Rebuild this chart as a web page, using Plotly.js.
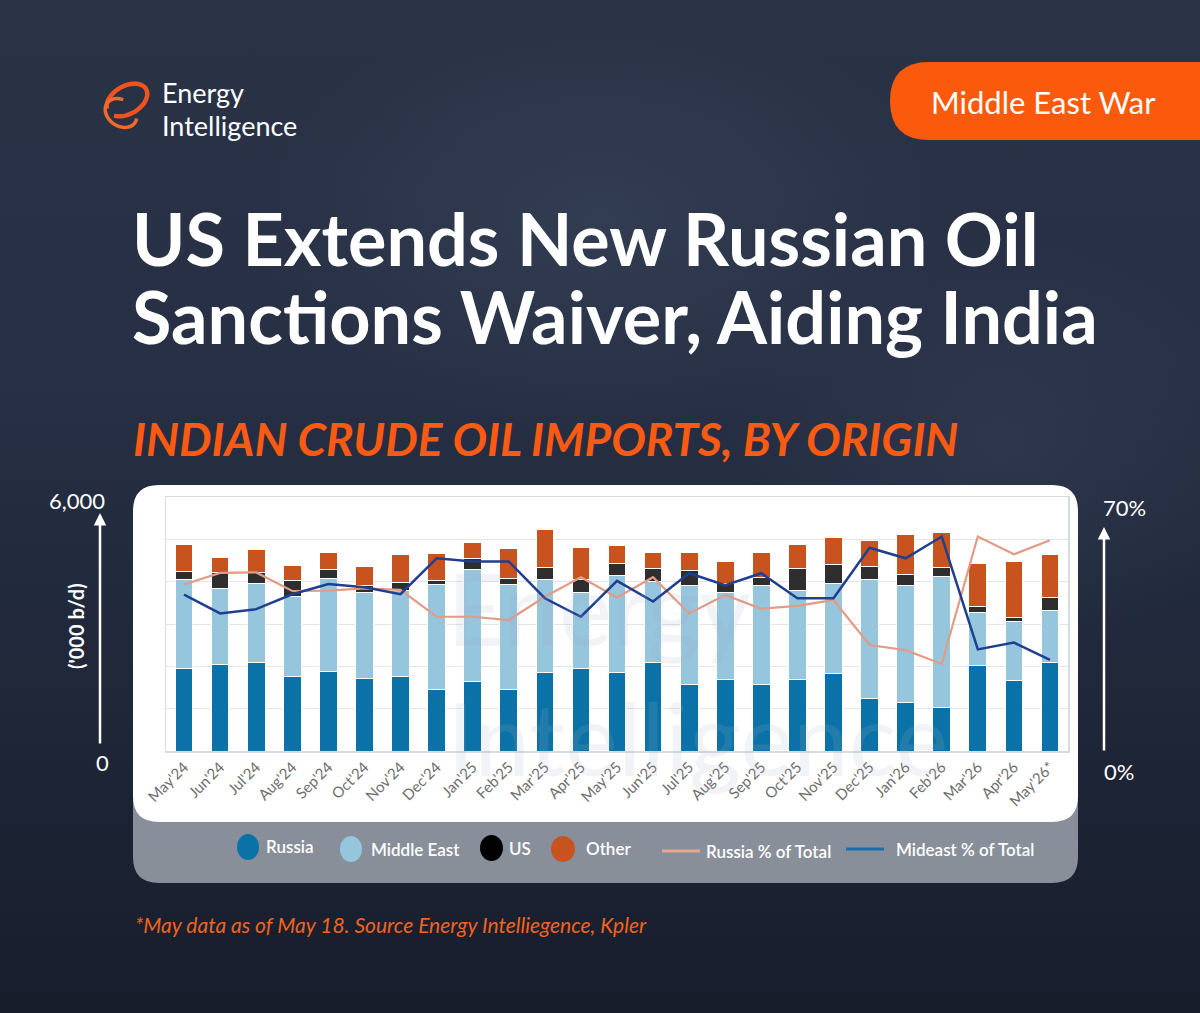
<!DOCTYPE html>
<html>
<head>
<meta charset="utf-8">
<script src="https://cdn.plot.ly/plotly-3.0.1.min.js"></script>
<style>
html,body{margin:0;padding:0;width:1200px;height:1013px;overflow:hidden;}
body{background:
 radial-gradient(ellipse 500px 300px at 600px 220px, rgba(70,82,105,0.35), rgba(0,0,0,0) 70%),
 radial-gradient(ellipse 400px 300px at 1000px 450px, rgba(60,70,95,0.35), rgba(0,0,0,0) 70%),
 linear-gradient(180deg,#2a3246 0%,#273045 35%,#20283a 65%,#171d2b 100%);}
#chart{width:1200px;height:1013px;}
</style>
</head>
<body>
<div id="chart"></div>
<script>
const months = ["May'24","Jun'24","Jul'24","Aug'24","Sep'24","Oct'24","Nov'24","Dec'24","Jan'25","Feb'25","Mar'25","Apr'25","May'25","Jun'25","Jul'25","Aug'25","Sep'25","Oct'25","Nov'25","Dec'25","Jan'26","Feb'26","Mar'26","Apr'26","May'26*"];
const russia     = [1940,2050,2080,1750,1880,1720,1750,1460,1640,1460,1860,1940,1860,2080,1580,1700,1580,1700,1835,1230,1150,1030,2010,1660,2100];
const middleEast = [2100,1790,1880,1900,2200,2020,2050,2480,2640,2480,2200,1800,2280,1920,2340,2050,2320,2080,2125,2825,2750,3100,1260,1395,1230];
const us         = [210,380,250,370,210,160,180,90,275,140,275,315,280,300,340,200,190,520,455,300,275,200,155,100,300];
const other      = [630,360,550,370,390,460,670,630,380,710,890,760,430,390,420,530,590,580,620,610,945,835,1010,1330,1020];
const russiaPct  = [45.9,49.1,49.2,44.1,44.2,44.8,44.4,37.0,37.0,36.1,42.5,47.9,42.3,47.9,37.9,43.0,39.2,40.0,41.6,29.2,27.8,24.0,59.1,54.2,58.1];
const mideastPct = [43.1,37.9,39.1,43.2,46.0,45.1,43.2,53.1,52.2,52.2,42.1,37.0,46.9,41.2,49.0,45.7,49.0,42.1,42.1,56.0,53.1,59.1,28.0,29.9,25.1];

const W = 1200, H = 1013;
const X = p => p / W;
const Y = p => 1 - p / H;
const F = "Lato, 'Open Sans', sans-serif";

const C = {russia:'#0b72a7', me:'#96c5de', us:'#2e2e2e', other:'#c8531f',
           rpct:'#e29c84', mpct:'#1f3f90', orange:'#fb5a0c'};

function rr(x0,y0,x1,y1,r){
  const p = (x,y)=> X(x).toFixed(5)+','+Y(y).toFixed(5);
  return 'M'+p(x0+r,y0)+' L'+p(x1-r,y0)+' Q'+p(x1,y0)+' '+p(x1,y0+r)+
         ' L'+p(x1,y1-r)+' Q'+p(x1,y1)+' '+p(x1-r,y1)+' L'+p(x0+r,y1)+
         ' Q'+p(x0,y1)+' '+p(x0,y1-r)+' L'+p(x0,y0+r)+' Q'+p(x0,y0)+' '+p(x0+r,y0)+' Z';
}
function arc(cx,cy,rx,ry,rot,a0,a1){
  const n=40; let s='';
  const cr=Math.cos(rot*Math.PI/180), sr=Math.sin(rot*Math.PI/180);
  for(let i=0;i<=n;i++){
    const a=(a0+(a1-a0)*i/n)*Math.PI/180;
    const ex=rx*Math.cos(a), ey=ry*Math.sin(a);
    const x=cx+ex*cr-ey*sr, y=cy+ex*sr+ey*cr;
    s+=(i?' L':'M')+X(x).toFixed(5)+','+Y(y).toFixed(5);
  }
  return s;
}
const P = {xref:'paper', yref:'paper'};
const sh = o => Object.assign({}, P, o);

const traces = [
  {type:'bar', name:'Russia', x:months, y:russia, marker:{color:C.russia, line:{color:'#ffffff', width:1}}},
  {type:'bar', name:'Middle East', x:months, y:middleEast, marker:{color:C.me, line:{color:'#ffffff', width:1}}},
  {type:'bar', name:'US', x:months, y:us, marker:{color:C.us, line:{color:'#ffffff', width:1}}},
  {type:'bar', name:'Other', x:months, y:other, marker:{color:C.other, line:{color:'#ffffff', width:1}}},
  {type:'scatter', mode:'lines', name:'Russia % of Total', x:months, y:russiaPct, yaxis:'y2', line:{color:C.rpct, width:2.2}},
  {type:'scatter', mode:'lines', name:'Mideast % of Total', x:months, y:mideastPct, yaxis:'y2', line:{color:C.mpct, width:2.5}}
];

const shapes = [
  sh({type:'path', layer:'below', path:rr(133,560,1078,883,26), fillcolor:'rgba(150,155,165,0.9)', line:{width:0}}),
  sh({type:'path', layer:'below', path:rr(133,485,1078,822,26), fillcolor:'#ffffff', line:{width:0}}),
  sh({type:'path', layer:'below', path:rr(890,62,1240,140,39), fillcolor:C.orange, line:{width:0}}),
  // logo swirl: two interlocking loops
  sh({type:'path', layer:'below', path:arc(127,100,22,14,-30,-170,150), line:{color:'#f0541c', width:4.5}}),
  sh({type:'path', layer:'below', path:arc(121,113,17,13,35,-20,250), line:{color:'#f26a2a', width:3.5}}),
  sh({type:'circle', layer:'above', x0:X(237), x1:X(259), y0:Y(834), y1:Y(860), fillcolor:C.russia, line:{width:0}}),
  sh({type:'circle', layer:'above', x0:X(340), x1:X(362), y0:Y(836), y1:Y(862), fillcolor:C.me, line:{width:0}}),
  sh({type:'circle', layer:'above', x0:X(480), x1:X(503), y0:Y(835), y1:Y(861), fillcolor:'#000000', line:{width:0}}),
  sh({type:'circle', layer:'above', x0:X(551), x1:X(575), y0:Y(836), y1:Y(862), fillcolor:C.other, line:{width:0}}),
  sh({type:'line', layer:'above', x0:X(662), x1:X(700), y0:Y(851), y1:Y(851), line:{color:'#e8a58d', width:3}}),
  sh({type:'line', layer:'above', x0:X(846), x1:X(884), y0:Y(849), y1:Y(849), line:{color:'#1b6eaa', width:3}})
];

function txt(text,x,y,size,color,opts){
  return Object.assign({xref:'paper', yref:'paper', x:X(x), y:Y(y), text:text, showarrow:false,
    xanchor:'left', yanchor:'middle', font:{family:F, size:size, color:color}}, opts||{});
}
const LG = {family:F, size:17, color:'#ffffff', weight:600};

const annotations = [
  txt('Energy',160,93,27,'#ffffff'),
  txt('Intelligence',160,126,27,'#ffffff'),
  txt('Middle East War',1043,102,31,'#ffffff',{xanchor:'center'}),
  txt('US Extends New Russian Oil',130,238,72,'#ffffff',{font:{family:F,size:72,color:'#ffffff',weight:700}}),
  txt('Sanctions Waiver, Aiding India',130,316,72,'#ffffff',{font:{family:F,size:72,color:'#ffffff',weight:700}}),
  txt('INDIAN CRUDE OIL IMPORTS, BY ORIGIN',131,439,46,C.orange,{font:{family:F,size:46,color:'#fa5a12',weight:700,style:'italic'}}),
  txt('Energy<br>Intelligence',445,672,100,'rgba(160,172,195,0.15)',{align:'left', font:{family:F,size:100,color:'rgba(160,172,195,0.15)'}}),
  txt('6,000',77,500,22,'#ffffff',{xanchor:'center'}),
  txt('0',102,762,22,'#ffffff',{xanchor:'center'}),
  txt("('000 b/d)",76,626,20,'#ffffff',{xanchor:'center', textangle:-90, font:{family:F,size:20,color:'#ffffff',weight:700}}),
  {xref:'paper', yref:'paper', x:X(100), y:Y(513), ax:X(100), ay:Y(745), axref:'paper', ayref:'paper',
   text:'', showarrow:true, arrowhead:2, arrowsize:1, arrowwidth:2.5, arrowcolor:'#ffffff'},
  txt('70%',1124,507,22,'#ffffff',{xanchor:'center'}),
  txt('0%',1119,771,22,'#ffffff',{xanchor:'center'}),
  {xref:'paper', yref:'paper', x:X(1104), y:Y(527), ax:X(1104), ay:Y(752), axref:'paper', ayref:'paper',
   text:'', showarrow:true, arrowhead:2, arrowsize:1, arrowwidth:2.5, arrowcolor:'#ffffff'},
  txt('Russia',264,846,17,'#ffffff',{font:LG}),
  txt('Middle East',369,849,17,'#ffffff',{font:LG}),
  txt('US',507,848,17,'#ffffff',{font:LG}),
  txt('Other',584,848,17,'#ffffff',{font:LG}),
  txt('Russia % of Total',704,851,17,'#ffffff',{font:LG}),
  txt('Mideast % of Total',894,849,17,'#ffffff',{font:LG}),
  txt('*May data as of May 18. Source Energy Intelliegence, Kpler',133,924,21,'#f2631e',{font:{family:F,size:21,color:'#f2631e',style:'italic'}})
];

const layout = {
  width:W, height:H,
  margin:{l:0,r:0,t:0,b:0},
  paper_bgcolor:'rgba(0,0,0,0)', plot_bgcolor:'rgba(0,0,0,0)',
  font:{family:F},
  barmode:'stack', bargap:0.51,
  showlegend:false,
  xaxis:{domain:[X(166),X(1068)], anchor:'y', type:'category', tickangle:-45,
         tickfont:{family:F,size:15,color:'#6e6e6e'}, ticks:'', showline:true, mirror:true,
         linecolor:'#d6dbe2', linewidth:1.5, showgrid:false, fixedrange:true},
  yaxis:{domain:[1-751/H, 1-497/H], range:[0,6000], dtick:1000, showticklabels:false,
         gridcolor:'#e4e4e4', gridwidth:1, showline:true, mirror:true, linecolor:'#d6dbe2', linewidth:1.5,
         zeroline:false, ticks:''},
  yaxis2:{overlaying:'y', side:'right', range:[0,70], showticklabels:false, showgrid:false,
          zeroline:false, showline:false, ticks:''},
  shapes:shapes,
  annotations:annotations
};

Plotly.newPlot('chart', traces, layout, {staticPlot:true});
</script>
</body>
</html>
